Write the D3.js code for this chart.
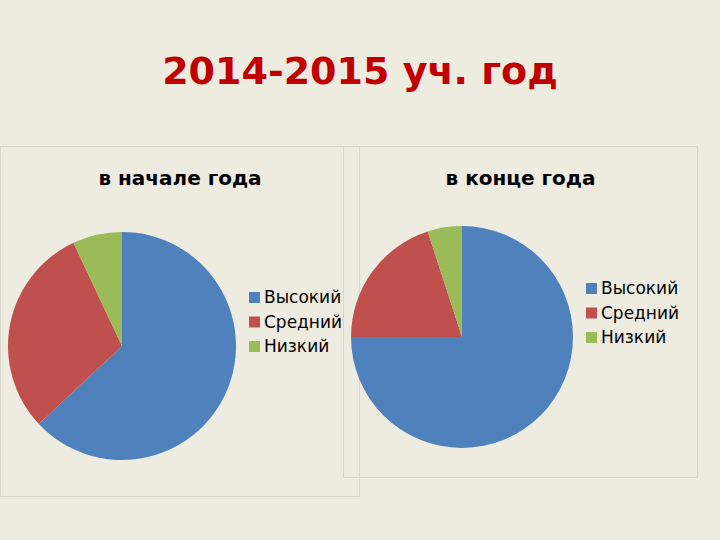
<!DOCTYPE html>
<html><head><meta charset="utf-8">
<script src="https://cdn.jsdelivr.net/npm/d3@7"></script>
<style>body{margin:0;background:#eeebe0;}</style>
</head><body>
<svg id="c" width="720" height="540"></svg>
<script>
const categories = ["Высокий", "Средний", "Низкий"];
const startValues = [63, 30, 7];
const endValues = [75, 20, 5];
const colors = ["#4f81bd", "#c0504d", "#9bbb59"];

const svg = d3.select("#c");
svg.append("rect").attr("width", 720).attr("height", 540).attr("fill", "#eeebe0");
svg.append("text").attr("x", 360).attr("y", 84).attr("text-anchor", "middle")
  .attr("font-family", "DejaVu Sans").attr("font-weight", "bold").attr("font-size", 38)
  .attr("fill", "#c00000").text("2014-2015 уч. год");

const color = d3.scaleOrdinal().domain(categories).range(colors);

function panel(box, title, values, cx, cy, r, legX, legY) {
  const g = svg.append("g");
  g.append("rect").attr("x", box[0]).attr("y", box[1]).attr("width", box[2]).attr("height", box[3])
    .attr("fill", "none").attr("stroke", "#d9d6cc").attr("stroke-width", 1);
  g.append("text").attr("x", box[0] + box[2] / 2).attr("y", box[1] + 38).attr("text-anchor", "middle")
    .attr("font-family", "DejaVu Sans").attr("font-weight", "bold").attr("font-size", 20).text(title);
  const pie = d3.pie().sort(null)(values);
  const arc = d3.arc().innerRadius(0).outerRadius(r);
  g.append("g").attr("transform", `translate(${cx},${cy})`).selectAll("path").data(pie).join("path")
    .attr("d", arc).attr("fill", (d, i) => color(categories[i]));
  const leg = g.append("g").attr("transform", `translate(${legX},${legY})`);
  categories.forEach((c, i) => {
    leg.append("rect").attr("x", 0).attr("y", i * 24.5 - 5).attr("width", 11).attr("height", 11).attr("fill", color(c));
    leg.append("text").attr("x", 15).attr("y", i * 24.5 + 6).attr("font-family", "DejaVu Sans")
      .attr("font-size", 17).text(c);
  });
}
panel([0.5, 146.5, 359, 350], "в начале года", startValues, 122, 346, 114, 249, 297);
panel([343.5, 146.5, 354, 331], "в конце года", endValues, 462, 337, 111, 586, 288);
</script>
</body></html>
